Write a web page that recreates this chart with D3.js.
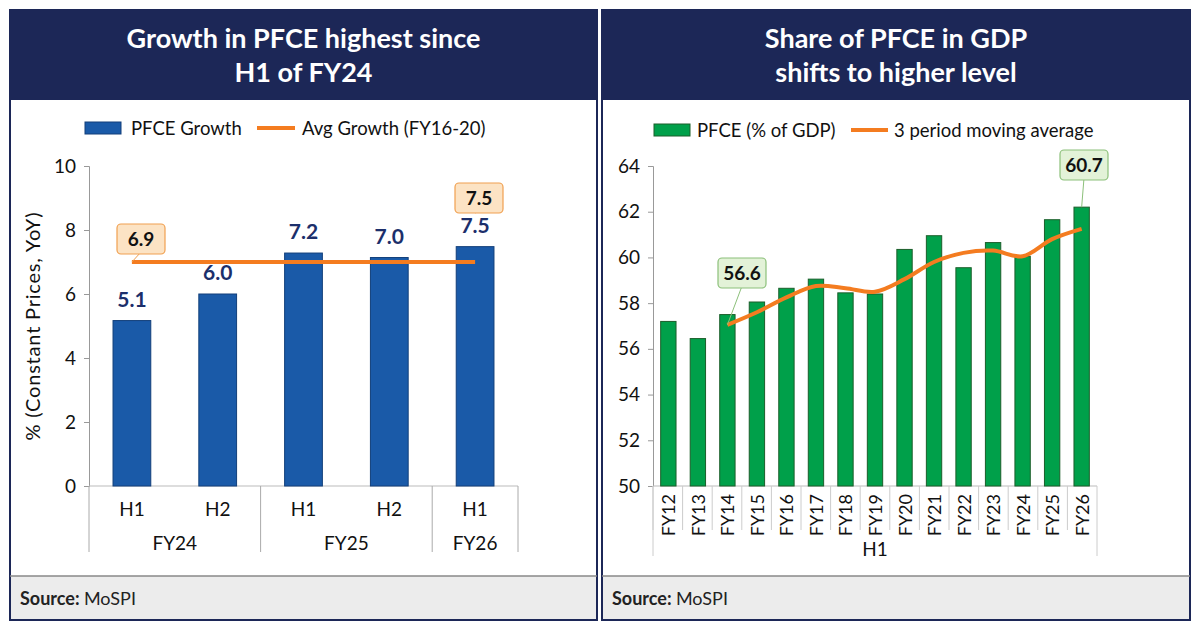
<!DOCTYPE html>
<html><head><meta charset="utf-8">
<script src="https://cdn.jsdelivr.net/npm/d3@7"></script>
<style>body{margin:0;background:#fff;font-family:Lato,"Open Sans",sans-serif;}</style>
</head><body><svg id="root"></svg>
<script>
const W = 1199, H = 632;
const navy = '#1c2757', orange = '#f47c20';

// left chart data
const halves = ['H1', 'H2', 'H1', 'H2', 'H1'];
const fyGroups = [{name: 'FY24', n: 2}, {name: 'FY25', n: 2}, {name: 'FY26', n: 1}];
const growth = [5.17, 6.0, 7.28, 7.14, 7.48];
const growthLabels = ['5.1', '6.0', '7.2', '7.0', '7.5'];
const avgGrowth = 7.0;
const leftTicks = [0, 2, 4, 6, 8, 10];

// right chart data
const years = ['FY12','FY13','FY14','FY15','FY16','FY17','FY18','FY19','FY20','FY21','FY22','FY23','FY24','FY25','FY26'];
const share = [57.2, 56.45, 57.5, 58.05, 58.65, 59.05, 58.45, 58.4, 60.35, 60.95, 59.55, 60.65, 60.05, 61.65, 62.2];
const movAvg = [null, null, 57.05, 57.6, 58.25, 58.75, 58.65, 58.5, 59.05, 59.8, 60.2, 60.3, 60.05, 60.8, 61.25];
const rightTicks = [50, 52, 54, 56, 58, 60, 62, 64];

const svg = d3.select('#root').attr('width', W).attr('height', H);

function panel(x0, w, title) {
    const g = svg.append('g');
    g.append('rect').attr('x', x0).attr('y', 10).attr('width', w).attr('height', 610)
        .attr('fill', '#fff').attr('stroke', navy).attr('stroke-width', 2);
    g.append('rect').attr('x', x0).attr('y', 10).attr('width', w).attr('height', 90).attr('fill', navy);
    title.forEach((t, i) => g.append('text').attr('x', x0 + w/2).attr('y', 48 + i*34)
        .attr('text-anchor', 'middle').attr('fill', '#fff').attr('font-size', 27).attr('font-weight', 700).text(t));
    g.append('rect').attr('x', x0 + 1).attr('y', 576).attr('width', w - 2).attr('height', 43).attr('fill', '#ececec');
    g.append('line').attr('x1', x0).attr('x2', x0 + w).attr('y1', 576).attr('y2', 576).attr('stroke', '#888').attr('stroke-width', 1.5);
    const s = g.append('text').attr('x', x0 + 10).attr('y', 605).attr('font-size', 18).attr('fill', '#222');
    s.append('tspan').attr('font-weight', 700).text('Source: ');
    s.append('tspan').text('MoSPI');
    return g;
}

function callout(g, cx, cy, txt, fill, stroke, px, py) {
    g.append('line').attr('x1', cx).attr('y1', cy + 13).attr('x2', px).attr('y2', py).attr('stroke', stroke).attr('stroke-width', 1);
    g.append('rect').attr('x', cx - 24).attr('y', cy - 15).attr('width', 48).attr('height', 30).attr('rx', 4)
        .attr('fill', fill).attr('stroke', stroke).attr('stroke-width', 1.2);
    g.append('text').attr('x', cx).attr('y', cy + 7).attr('text-anchor', 'middle').attr('font-size', 19)
        .attr('font-weight', 700).attr('fill', '#111').text(txt);
}

// ---- left panel
const L = panel(10, 587, ['Growth in PFCE highest since', 'H1 of FY24']);
const xL = d3.scaleBand().domain(d3.range(halves.length)).range([89, 518]).paddingInner(0.56).paddingOuter(0.28);
const yL = d3.scaleLinear().domain([0, 10]).range([486, 166]);

L.append('g').attr('transform', 'translate(89,0)')
    .call(d3.axisLeft(yL).tickValues(leftTicks).tickSize(5).tickPadding(8))
    .call(a => a.selectAll('text').attr('font-size', 19).attr('fill', '#111').attr('font-family', 'Lato'))
    .call(a => a.selectAll('line,path').attr('stroke', '#999'));
L.append('line').attr('x1', 89).attr('x2', 518).attr('y1', 486).attr('y2', 486).attr('stroke', '#bbb');

L.selectAll('.bar').data(growth).enter().append('rect')
    .attr('x', (d, i) => xL(i)).attr('width', xL.bandwidth())
    .attr('y', d => yL(d)).attr('height', d => yL(0) - yL(d))
    .attr('fill', '#1a5aa8').attr('stroke', '#123f7a').attr('stroke-width', 1);
L.selectAll('.lbl').data(growth).enter().append('text')
    .attr('x', (d, i) => xL(i) + xL.bandwidth()/2).attr('y', d => yL(d) - 14)
    .attr('text-anchor', 'middle').attr('font-size', 21).attr('font-weight', 700).attr('fill', '#1c2f6b')
    .text((d, i) => growthLabels[i]);

const cL = i => xL(i) + xL.bandwidth()/2;
L.append('line').attr('x1', cL(0)).attr('x2', cL(halves.length - 1))
    .attr('y1', yL(avgGrowth)).attr('y2', yL(avgGrowth)).attr('stroke', orange).attr('stroke-width', 4);

L.selectAll('.h').data(halves).enter().append('text')
    .attr('x', (d, i) => cL(i)).attr('y', 516).attr('text-anchor', 'middle').attr('font-size', 19).attr('fill', '#111').text(d => d);
let acc = 0;
const edge = i => 89 + i * (518 - 89) / halves.length;
L.append('line').attr('x1', 89).attr('x2', 89).attr('y1', 486).attr('y2', 552).attr('stroke', '#aaa');
fyGroups.forEach(gp => {
    const a = edge(acc), b = edge(acc + gp.n);
    L.append('line').attr('x1', b).attr('x2', b).attr('y1', 486).attr('y2', 552).attr('stroke', '#aaa');
    L.append('text').attr('x', (a + b)/2).attr('y', 550).attr('text-anchor', 'middle').attr('font-size', 19).attr('fill', '#111').text(gp.name);
    acc += gp.n;
});

L.append('text').attr('transform', `translate(40,${yL(5)}) rotate(-90)`).attr('text-anchor', 'middle')
    .attr('font-size', 20).attr('letter-spacing', 0.8).attr('fill', '#111').text('%  (Constant Prices,  YoY)');

callout(L, 141, 239, '6.9', '#fce3c4', '#f0a050', cL(0), yL(avgGrowth));
callout(L, 479, 198, '7.5', '#fce3c4', '#f0a050', cL(4), 213);

// legend left
L.append('rect').attr('x', 85).attr('y', 122).attr('width', 36).attr('height', 12).attr('fill', '#1a5aa8').attr('stroke', '#123f7a');
L.append('text').attr('x', 131).attr('y', 135).attr('font-size', 18.5).attr('fill', '#111').text('PFCE Growth');
L.append('line').attr('x1', 257).attr('x2', 295).attr('y1', 128).attr('y2', 128).attr('stroke', orange).attr('stroke-width', 4);
L.append('text').attr('x', 302).attr('y', 135).attr('font-size', 18.5).attr('fill', '#111').text('Avg Growth (FY16-20)');

// ---- right panel
const R = panel(602, 588, ['Share of PFCE in GDP', 'shifts to higher level']);
const xR = d3.scaleBand().domain(years).range([653, 1097]).paddingInner(0.48).paddingOuter(0.26);
const yR = d3.scaleLinear().domain([50, 64]).range([486, 166]);

R.append('g').attr('transform', 'translate(653,0)')
    .call(d3.axisLeft(yR).tickValues(rightTicks).tickSize(5).tickPadding(8))
    .call(a => a.selectAll('text').attr('font-size', 19).attr('fill', '#111').attr('font-family', 'Lato'))
    .call(a => a.selectAll('line,path').attr('stroke', '#999'));
R.append('line').attr('x1', 653).attr('x2', 1097).attr('y1', 486).attr('y2', 486).attr('stroke', '#bbb');

R.selectAll('.bar').data(share).enter().append('rect')
    .attr('x', (d, i) => xR(years[i])).attr('width', xR.bandwidth())
    .attr('y', d => yR(d)).attr('height', d => yR(50) - yR(d))
    .attr('fill', '#00a04a').attr('stroke', '#1b5e2a').attr('stroke-width', 1);

const cR = y => xR(y) + xR.bandwidth()/2;
const ma = years.map((y, i) => [cR(y), movAvg[i]]).filter(d => d[1] !== null);
R.append('path').datum(ma)
    .attr('d', d3.line().x(d => d[0]).y(d => yR(d[1])).curve(d3.curveCatmullRom))
    .attr('fill', 'none').attr('stroke', orange).attr('stroke-width', 4);

const stepR = (1097 - 653) / years.length;
years.forEach((y, i) => {
    const x = 653 + i * stepR;
    R.append('line').attr('x1', x).attr('x2', x).attr('y1', 486).attr('y2', 530).attr('stroke', '#ccc');
    R.append('text').attr('transform', `translate(${cR(y) + 7},${494}) rotate(-90)`).attr('text-anchor', 'end')
        .attr('font-size', 18).attr('fill', '#111').text(y);
});
R.append('line').attr('x1', 653).attr('x2', 653).attr('y1', 486).attr('y2', 556).attr('stroke', '#ccc');
R.append('line').attr('x1', 1097).attr('x2', 1097).attr('y1', 486).attr('y2', 556).attr('stroke', '#ccc');
R.append('text').attr('x', (653 + 1097)/2).attr('y', 556).attr('text-anchor', 'middle').attr('font-size', 19).attr('fill', '#111').text('H1');

callout(R, 742, 273, '56.6', '#e3f2d8', '#8cc07a', cR('FY14'), yR(movAvg[2]));
callout(R, 1084, 165, '60.7', '#e3f2d8', '#8cc07a', cR('FY26'), yR(share[14]));

// legend right
R.append('rect').attr('x', 654).attr('y', 124).attr('width', 36).attr('height', 12).attr('fill', '#00a04a').attr('stroke', '#1b5e2a');
R.append('text').attr('x', 697).attr('y', 137).attr('font-size', 18.5).attr('fill', '#111').text('PFCE (% of GDP)');
R.append('line').attr('x1', 851).attr('x2', 888).attr('y1', 130).attr('y2', 130).attr('stroke', orange).attr('stroke-width', 4);
R.append('text').attr('x', 894).attr('y', 137).attr('font-size', 18.5).attr('fill', '#111').text('3 period moving average');
</script></body></html>
